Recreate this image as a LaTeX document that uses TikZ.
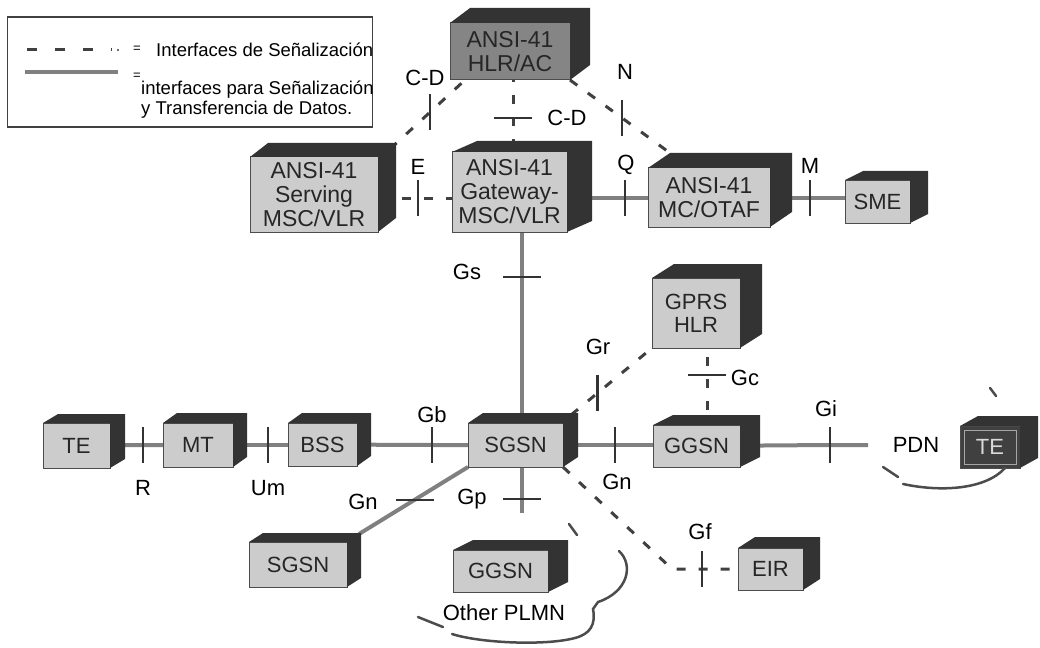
\documentclass[tikz,border=0pt]{standalone}
\usepackage{fontspec}
\setmainfont{Liberation Sans}
\usetikzlibrary{calc}
\pgfdeclarelayer{background}
\pgfsetlayers{background,main}
\begin{document}
\begin{tikzpicture}[x=1pt, y=-1pt,
		box/.style={draw=black!70, line width=1pt, fill=black!20, inner sep=0pt, outer sep=0pt,
			align=center, text=black!85, font=\fontsize{22}{23}\selectfont},
		ansibox/.style={box, font=\fontsize{23}{24}\selectfont},
		hlrbox/.style={ansibox, fill=black!48},
		pcbox/.style={box, fill=black!75, text=black!15},
		boxside/.style={fill=black!80},
		data/.style={line width=4pt, draw=black!50},
		sig/.style={line width=3pt, draw=black!75, dash pattern=on 9pt off 13pt},
		tick/.style={line width=2.5pt, draw=black!80},
		cloud/.style={line width=2.5pt, draw=black!70, line cap=round},
		lbl/.style={inner sep=0pt, font=\fontsize{22}{23}\selectfont}]
	\useasboundingbox (0,0) rectangle (1040,647);

	% legend
	\node[draw=black!75, line width=1.5pt, minimum width=365pt, minimum height=110pt, inner sep=0pt] (legend) at (190,72) {};
	\coordinate (lsiga) at (27,50);
	\coordinate (lsigb) at (112,50);
	\coordinate (ldata) at (25,72);
	\coordinate (ldatb) at (118,72);
	\draw[sig, dash pattern=on 10pt off 18pt] (lsiga) -- (lsigb);
	\fill[black!75] (118,50) circle (1.2pt);
	\draw[data] (ldata) -- (ldatb);
	\node[inner sep=0pt, font=\fontsize{13}{13}\selectfont] (leqa) at (137,49) {=};
	\node[inner sep=0pt, font=\fontsize{13}{13}\selectfont] (leqb) at (137,76) {=};
	\node[anchor=west, inner sep=0pt, font=\fontsize{18.5}{20}\selectfont] (lsigtxt) at (156,50) {Interfaces de Señalización};
	\node[anchor=west, align=left, inner sep=0pt, font=\fontsize{18.5}{20}\selectfont] (ldattxt) at (141,100) {interfaces para Señalización\\y Transferencia de Datos.};

	% network elements
	\node[hlrbox, minimum width=120pt, minimum height=57pt] (hlrac) at (510,51.5) {ANSI-41\\HLR/AC};
	\node[ansibox, minimum width=128pt, minimum height=75pt] (serv) at (314,194.5) {ANSI-41\\Serving\\MSC/VLR};
	\node[ansibox, minimum width=115pt, minimum height=80pt] (gate) at (509.5,192) {ANSI-41\\Gateway-\\MSC/VLR};
	\node[ansibox, minimum width=122pt, minimum height=59pt] (mcotaf) at (709,197.5) {ANSI-41\\MC/OTAF};
	\node[box, minimum width=65pt, minimum height=43pt] (sme) at (877.5,201.5) {SME};
	\node[box, minimum width=88pt, minimum height=70pt] (gprshlr) at (696,313) {GPRS\\HLR};
	\node[box, minimum width=67pt, minimum height=45pt] (te) at (76.5,445.5) {TE};
	\node[box, minimum width=70pt, minimum height=44pt] (mt) at (198,445) {MT};
	\node[box, minimum width=69pt, minimum height=43pt] (bss) at (322.5,444.5) {BSS};
	\node[box, minimum width=95pt, minimum height=44pt] (sgsn) at (515.5,445) {SGSN};
	\node[box, minimum width=87pt, minimum height=42pt] (ggsn) at (696.5,446) {GGSN};
	\node[pcbox, minimum width=60pt, minimum height=42pt] (tepdn) at (990,447) {TE};
	\node[box, minimum width=98pt, minimum height=45pt] (sgsnb) at (298,564.5) {SGSN};
	\node[box, minimum width=95pt, minimum height=42pt] (ggsnb) at (500.5,571) {GGSN};
	\node[box, minimum width=65pt, minimum height=42pt] (eir) at (770.5,569) {EIR};

	\foreach \n/\dx/\dy in {hlrac/20/15, serv/18/14, gate/25/11, mcotaf/22/15, sme/18/9, gprshlr/22/14,
			te/15/9, mt/14/10, bss/14/10, sgsn/15/10, ggsn/20/10, tepdn/18/10, sgsnb/14/9, ggsnb/20/10, eir/17/11}
		\fill[boxside] (\n.north west) -- ++(\dx,-\dy) -- ([shift={(\dx,-\dy)}]\n.north east)
			-- ([shift={(\dx,-\dy)}]\n.south east) -- (\n.south east) -- (\n.north east) -- cycle;
	\draw[black!35, line width=1pt] ($(tepdn.north west)+(4,4)$) rectangle ($(tepdn.south east)+(-4,-4)$);

	% interface points
	\coordinate (tR) at (143,445);
	\coordinate (tUm) at (268,445);
	\coordinate (tGb) at (432,445);
	\coordinate (tGnr) at (615,445);
	\coordinate (tGi) at (830,445);
	\coordinate (pdnend) at (868,445);
	\coordinate (tE) at (418,198);
	\coordinate (tQ) at (625,198);
	\coordinate (tM) at (810,198);
	\coordinate (tGs) at (522,277);
	\coordinate (tCDm) at (513,118);
	\coordinate (tGc) at (707,375);
	\coordinate (tGp) at (522,499);
	\coordinate (gpend) at (522,513);
	\coordinate (gfbend) at (672,569);
	\coordinate (tGf) at (702,569);

	\begin{pgfonlayer}{background}
		\draw[data] (te) -- (tR) -- (tR -| mt);
		\draw[data] (mt) -- (tUm) -- (tUm -| bss);
		\draw[data] (bss) -- (tGb) -- (tGb -| sgsn);
		\draw[data] (sgsn) -- (tGnr) -- (tGnr -| ggsn);
		\draw[data] (ggsn) -- (tGi) -- (pdnend);
		\draw[data] (tGs |- gate) -- (tGs) -- (tGs |- sgsn);
		\draw[data] (tQ -| gate) -- (tQ) -- (tQ -| mcotaf);
		\draw[data] (tM -| mcotaf) -- (tM) -- (tM -| sme);
		\draw[data] (tGp |- sgsn) -- (tGp) -- (gpend);
		\draw[data] (sgsn.south west) -- coordinate[pos=0.49] (tGnb) ($(sgsnb.north east)+(12,-8)$);
		\draw[sig] (tE -| serv) -- (tE) -- (tE -| gate);
		\draw[sig] ($(serv.north east)+(12,-8)$) -- coordinate[pos=0.53] (tCDl) ($(hlrac.south west)+(15,0)$);
		\draw[sig] (tCDm |- hlrac) -- (tCDm) -- (tCDm |- gate);
		\draw[sig] (hlrac.south east) -- coordinate[pos=0.52] (tN) ($(mcotaf.north west)+(22,-15)$);
		\draw[sig] ($(sgsn.north east)+(8,-8)$) -- coordinate[pos=0.33] (tGr) (gprshlr.south west);
		\draw[sig] (tGc |- gprshlr) -- (tGc) -- (tGc |- ggsn);
		\draw[sig] (sgsn.south east) -- (gfbend) -- (tGf) -- (eir);
	\end{pgfonlayer}

	% interface marks
	\foreach \t in {tR, tUm, tGb, tGnr, tGi, tE, tQ, tM, tCDl, tN, tGr, tGf}
		\draw[tick] ($(\t)+(0,-18)$) -- ($(\t)+(0,18)$);
	\foreach \t in {tGs, tCDm, tGc, tGp, tGnb}
		\draw[tick] ($(\t)+(-19,0)$) -- ($(\t)+(19,0)$);

	% clouds
	\draw[cloud] (619,551) .. controls (634,565) and (628,592) .. (598,602) -- (593,609)
		.. controls (596,625) and (590,634) .. (575,638) .. controls (545,646) and (480,643) .. (452,634);
	\draw[cloud] (418,617) -- (443,627);
	\draw[cloud] (569,524) -- (577,535);
	\draw[cloud] (883,467) -- (898,477);
	\draw[cloud] (903,484) .. controls (940,492) and (985,490) .. ($(tepdn.south)+(15,0)$);
	\draw[cloud] (990,388) -- (996,396);

	% labels
	\node[lbl] (lCDl) at (425,78) {C-D};
	\node[lbl] (lCDm) at (567,118) {C-D};
	\node[lbl] (lN) at (625,72) {N};
	\node[lbl] (lE) at (418,167) {E};
	\node[lbl] (lQ) at (626,165) {Q};
	\node[lbl] (lM) at (810,166) {M};
	\node[lbl] (lGs) at (467,272) {Gs};
	\node[lbl] (lGr) at (598,347) {Gr};
	\node[lbl] (lGc) at (745,378) {Gc};
	\node[lbl] (lGb) at (432,415) {Gb};
	\node[lbl] (lR) at (143,488) {R};
	\node[lbl] (lUm) at (268,488) {Um};
	\node[lbl] (lGnr) at (617,482) {Gn};
	\node[lbl] (lGi) at (826,409) {Gi};
	\node[lbl] (lPDN) at (916,445) {PDN};
	\node[lbl] (lGnb) at (363,502) {Gn};
	\node[lbl] (lGp) at (472,499) {Gp};
	\node[lbl] (lGf) at (700,532) {Gf};
	\node[lbl] (lPLMN) at (504,613) {Other PLMN};
\end{tikzpicture}
\end{document}
